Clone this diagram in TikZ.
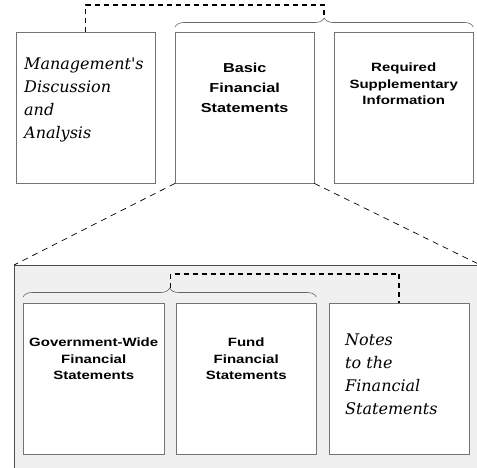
\documentclass[tikz,border=0pt]{standalone}
\usepackage{fontspec}
\setmainfont{Liberation Sans}
\newfontfamily\widesans[FakeStretch=1.25]{Liberation Sans}
\newfontfamily\handfont{DejaVu Serif}
\usetikzlibrary{positioning,decorations.pathreplacing}

\definecolor{panelgray}{HTML}{F0F0F0}

\tikzset{
  box/.style={draw=black!55, fill=white, minimum width=139pt, minimum height=151pt, inner sep=0pt},
  panel/.style={draw=black!70, fill=panelgray, minimum width=466pt, minimum height=215pt, inner sep=0pt},
  heading/.style={font=\widesans\bfseries\fontsize{13}{20}\selectfont, align=center, inner sep=0pt},
  subheading/.style={font=\widesans\bfseries\fontsize{12}{16.5}\selectfont, align=center, inner sep=0pt},
  hand/.style={font=\handfont\itshape\fontsize{16}{23}\selectfont, align=left, inner sep=0pt},
  link/.style={line width=1.5pt, dash pattern=on 5pt off 4pt},
  fold/.style={line width=0.7pt, dash pattern=on 6pt off 5pt},
  curly/.style={decorate, decoration={brace, amplitude=9pt}, draw=black!60, line width=0.6pt}
}

\begin{document}
\begin{tikzpicture}[x=1pt, y=-1pt]
  \useasboundingbox (0,0) rectangle (477,467);

  % grey panel with the detail
  \node[panel, anchor=north west] (detail) at (14,265) {};

  % top row of statements
  \node[box, anchor=north west] (mda) at (16,32) {};
  \node[box, anchor=north west] (bfs) at (175,32) {};
  \node[box, anchor=north west] (rsi) at (334,32) {};

  % bottom row, inside the panel
  \node[box, minimum width=141pt, anchor=north west] (gwfs) at (23,303) {};
  \node[box, minimum width=140pt, anchor=north west] (ffs) at (176,303) {};
  \node[box, minimum width=140pt, anchor=north west] (nfs) at (329,303) {};

  % box texts
  \node[hand, below right=26pt and 8pt of mda.north west] (mdatext) {Management's\\Discussion\\and\\Analysis};
  \node[heading, below=31pt of bfs.north] (bfstext) {Basic\\Financial\\Statements};
  \node[subheading, below=31pt of rsi.north] (rsitext) {Required\\Supplementary\\Information};
  \node[subheading, below=35pt of gwfs.north] (gwfstext) {Government-Wide\\Financial\\Statements};
  \node[subheading, below=35pt of ffs.north] (ffstext) {Fund\\Financial\\Statements};
  \node[hand, below right=31pt and 16pt of nfs.north west] (nfstext) {Notes\\to the\\Financial\\Statements};

  % braces
  \draw[curly] ([yshift=5pt]bfs.north west) -- ([yshift=5pt]rsi.north east);
  \draw[curly] ([yshift=6pt]gwfs.north west) -- ([yshift=6pt]ffs.north east);
  \coordinate (toptip) at (324,18);
  \coordinate (lowtip) at (170.5,288);

  % dashed links to the braces
  \draw[link] (mda.north) -- ++(0,-27) -| (toptip);
  \draw[link] (lowtip) -- ++(0,-14) -| (nfs.north);

  % zoom lines
  \draw[fold] (bfs.south west) -- (detail.north west);
  \draw[fold] (bfs.south east) -- (detail.north east);
\end{tikzpicture}
\end{document}
